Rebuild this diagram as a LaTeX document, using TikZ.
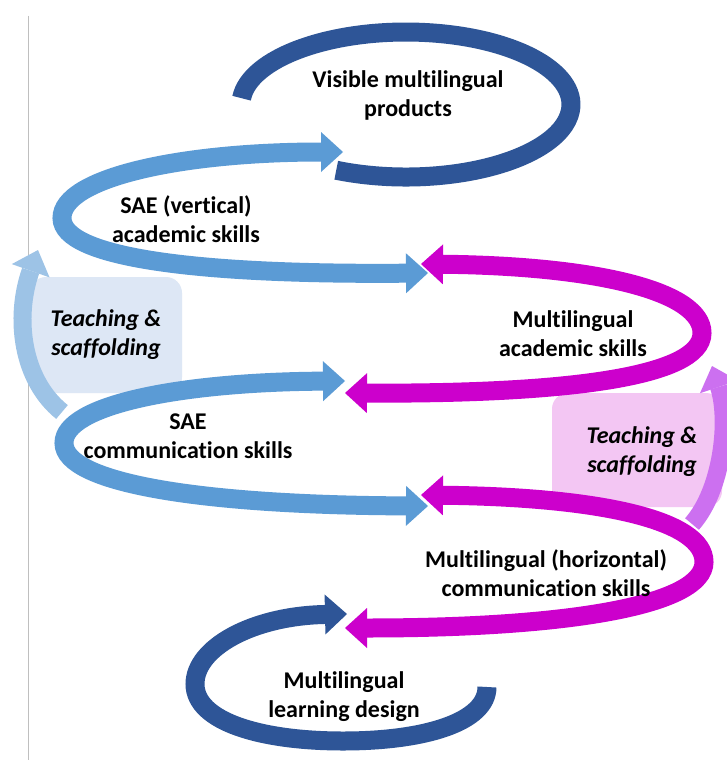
\documentclass[tikz,border=0pt]{standalone}
\usepackage{fontspec}
\setmainfont[Ligatures=NoCommon]{Carlito}
\usetikzlibrary{arrows.meta}
\definecolor{dkblue}{HTML}{2E5597}
\definecolor{ltblue}{HTML}{5B9BD5}
\definecolor{mgt}{HTML}{CC00CC}
\definecolor{palearrow}{HTML}{9DC3E6}
\definecolor{paleboxblue}{HTML}{DDE7F5}
\definecolor{lavender}{HTML}{CC70F0}
\definecolor{pinkbox}{HTML}{F3C6F3}
\begin{document}
\begin{tikzpicture}[x=1pt,y=-1pt,
  >={Triangle[width=40pt,length=22pt,line width=0pt]},
  band/.style={line width=19pt},
  paleband/.style={line width=18pt},
  lbl/.style={font=\fontsize{24}{29}\selectfont\bfseries, align=center, inner sep=0pt},
  ilbl/.style={font=\fontsize{24}{29}\selectfont\bfseries\itshape, align=center, inner sep=0pt},
  tbox/.style={rounded corners=16pt}]
\useasboundingbox (0,0) rectangle (726,760);
\fill[white] (0,0) rectangle (726,760);
% margin line
\draw[black!25, line width=1pt] (28,16) -- (28,760);
% teaching boxes
\fill[paleboxblue, tbox] (30,277) rectangle (182,393);
\fill[pinkbox, tbox] (552,393) rectangle (722,507);
% teaching arrows
\coordinate (tlA) at (62,412);
\coordinate (tlB) at (38,250);
\draw[paleband, palearrow, ->] (tlA) .. controls (22,380) and (14,318) .. (tlB);
\coordinate (trA) at (692,524);
\coordinate (trB) at (712,366);
\draw[paleband, lavender, ->] (trA) .. controls (722,490) and (730,420) .. (trB);
% top ring
\coordinate (ringS) at (241.6,98.2);
\draw[band, dkblue] (ringS) arc[start angle=185, end angle=475, x radius=165, y radius=72.5];
% SAE vertical academic
\coordinate (b1s) at (343,152);
\coordinate (b1e) at (428,273);
\draw[band, ltblue, <->] (b1s) .. controls (180,152) and (62,178) .. (62,218) .. controls (62,258) and (200,275) .. (b1e);
% Multilingual academic
\coordinate (m1s) at (421,264);
\coordinate (m1e) at (345,393);
\draw[band, mgt, <->] (m1s) .. controls (600,266) and (702,292) .. (702,333) .. controls (702,378) and (560,394) .. (m1e);
% SAE communication
\coordinate (b2s) at (345,381);
\coordinate (b2e) at (428,506);
\draw[band, ltblue, <->] (b2s) .. controls (180,382) and (64,405) .. (64,443) .. controls (64,483) and (200,505) .. (b2e);
% Multilingual communication
\coordinate (m2s) at (421,495);
\coordinate (m2e) at (345,628);
\draw[band, mgt, <->] (m2s) .. controls (600,497) and (704,520) .. (704,562) .. controls (704,605) and (570,628) .. (m2e);
% bottom ring
\coordinate (d2s) at (347,614);
\coordinate (d2e) at (487,687);
\draw[band, dkblue, <-] (d2s) .. controls (252,616) and (195,648) .. (195,684) .. controls (195,722) and (262,741) .. (343,741) .. controls (425,741) and (487,722) .. (d2e);
% labels
\node[lbl] (vis) at (408,95) {Visible multilingual\\products};
\node[lbl] (saev) at (186,219) {SAE (vertical)\\academic skills};
\node[lbl] (mac) at (573,334) {Multilingual\\academic skills};
\node[lbl] (saec) at (188,436) {SAE\\communication skills};
\node[lbl] (mhc) at (546,573) {Multilingual (horizontal)\\communication skills};
\node[lbl] (mld) at (344,697) {Multilingual\\learning design};
\node[ilbl] (tl) at (106,335) {Teaching \&\\scaffolding};
\node[ilbl] (tr) at (642,452) {Teaching \&\\scaffolding};
\end{tikzpicture}
\end{document}
